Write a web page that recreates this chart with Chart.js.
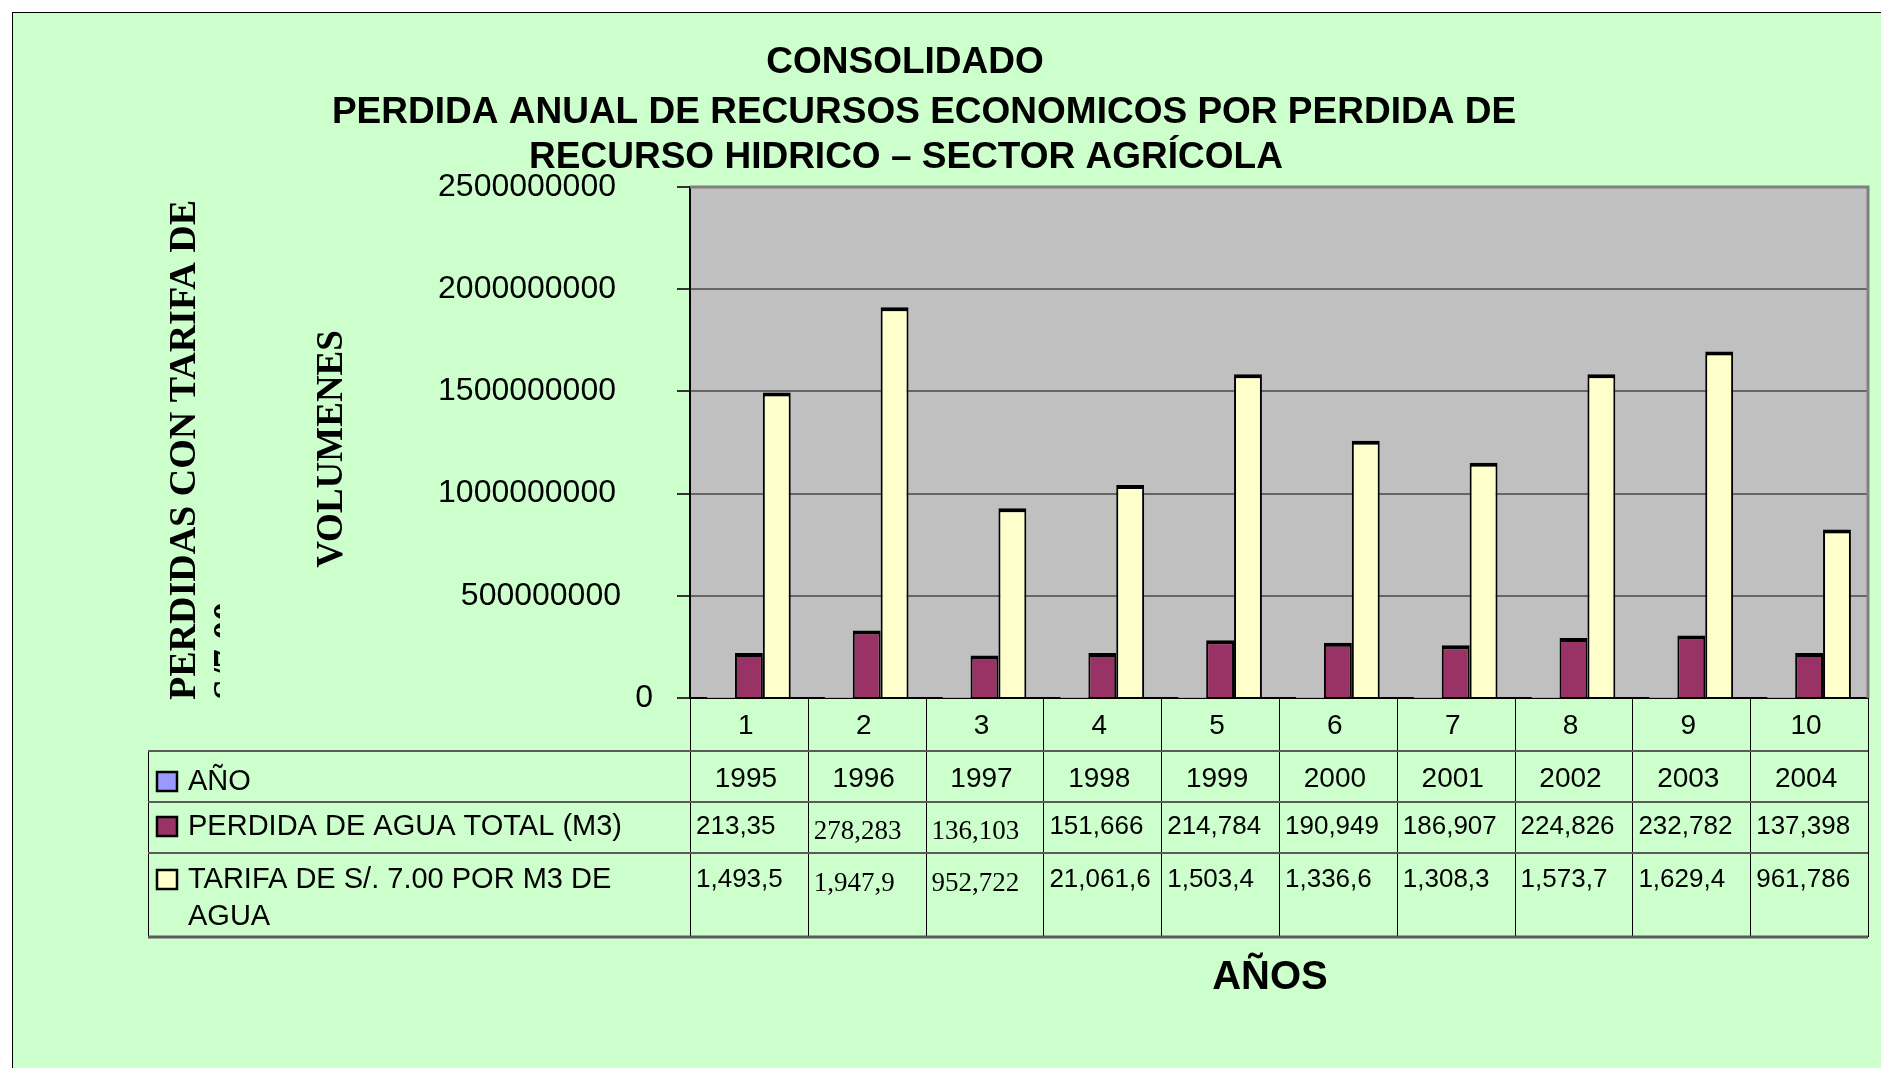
<!DOCTYPE html>
<html>
<head>
<meta charset="utf-8">
<script src="https://cdn.jsdelivr.net/npm/chart.js@4.4.1/dist/chart.umd.min.js"></script>
<style>
    html, body { margin: 0; padding: 0; background: #fff; }
    #frame {
        position: absolute; left: 12px; top: 12px; width: 1869px; height: 1056px;
        background: #CCFFCC; border-left: 1px solid #000; border-top: 1px solid #000;
        box-sizing: border-box;
    }
    #chart { position: absolute; left: 0; top: 0; }
</style>
</head>
<body>
<div id="frame"></div>
<canvas id="chart" width="1881" height="1068"></canvas>
<script>
// categories (x axis) and years row
const categories = ['1', '2', '3', '4', '5', '6', '7', '8', '9', '10'];
const years = [1995, 1996, 1997, 1998, 1999, 2000, 2001, 2002, 2003, 2004];

// bar heights
const perdidaValues = [220000000, 330000000, 208000000, 220000000, 282000000, 270000000, 258000000, 294000000, 306000000, 220000000];
const tarifaValues = [1495000000, 1912000000, 928000000, 1042000000, 1584000000, 1258000000, 1151000000, 1584000000, 1695000000, 824000000];

// text shown in the data table (as printed, truncated)
const perdidaText = ['213,35', '278,283', '136,103', '151,666', '214,784', '190,949', '186,907', '224,826', '232,782', '137,398'];
const tarifaText = ['1,493,5', '1,947,9', '952,722', '21,061,6', '1,503,4', '1,336,6', '1,308,3', '1,573,7', '1,629,4', '961,786'];
const serifCols = [1, 2]; // these cells are set in a serif face in the source

const titleLines = ['CONSOLIDADO', 'PERDIDA ANUAL DE RECURSOS ECONOMICOS POR PERDIDA DE', 'RECURSO HIDRICO \u2013 SECTOR AGR\u00CDCOLA'];
const seriesNames = ['A\u00D1O', 'PERDIDA DE AGUA TOTAL (M3)', 'TARIFA DE S/. 7.00 POR M3 DE'];

const SANS = '"Liberation Sans", Arial, sans-serif';
const SERIF = '"Liberation Serif", "Times New Roman", serif';

const sheetPlugin = {
    id: 'sheet',
    beforeDraw(chart) {
        const { ctx, chartArea: a } = chart;
        ctx.save();
        ctx.fillStyle = '#C0C0C0';
        ctx.fillRect(a.left, a.top, a.right - a.left, a.bottom - a.top);
        ctx.restore();
    },
    afterDraw(chart) {
        const { ctx, chartArea: a } = chart;
        const xs = chart.scales.x;
        const ys = chart.scales.y;
        ctx.save();

        // plot frame (top / right)
        ctx.strokeStyle = '#808080';
        ctx.lineWidth = 3;
        ctx.beginPath();
        ctx.moveTo(a.left, a.top);
        ctx.lineTo(a.right, a.top);
        ctx.lineTo(a.right, a.bottom);
        ctx.stroke();

        // y tick labels (excel pushes the short ones a bit right)
        ctx.fillStyle = '#000';
        ctx.font = '32px ' + SANS;
        ctx.textAlign = 'right';
        ctx.textBaseline = 'middle';
        ys.ticks.forEach(t => {
            const s = String(t.value);
            const shift = s.length === 1 ? 37 : (s.length === 9 ? 5 : 0);
            ctx.fillText(s, 616 + shift, ys.getPixelForValue(t.value));
        });

        // titles
        ctx.textAlign = 'center';
        ctx.font = 'bold 37px ' + SANS;
        ctx.fillText(titleLines[0], 905, 63);
        ctx.fillText(titleLines[1], 924, 113);
        ctx.fillText(titleLines[2], 906, 158);

        // x axis title
        ctx.font = 'bold 40px ' + SANS;
        ctx.fillText('A\u00D1OS', 1270, 978);

        // rotated axis titles
        ctx.save();
        ctx.font = 'bold 38px ' + SERIF;
        ctx.translate(195, 700);
        ctx.rotate(-Math.PI / 2);
        ctx.textAlign = 'left';
        ctx.textBaseline = 'alphabetic';
        ctx.fillText('PERDIDAS CON TARIFA DE', 0, 0);
        ctx.restore();

        ctx.save();
        ctx.beginPath();
        ctx.rect(0, 0, 220, 1068);
        ctx.clip();
        ctx.font = 'bold 38px ' + SERIF;
        ctx.translate(239, 700);
        ctx.rotate(-Math.PI / 2);
        ctx.textAlign = 'left';
        ctx.textBaseline = 'alphabetic';
        ctx.fillText('S/7.00', 0, 0);
        ctx.restore();

        ctx.save();
        ctx.font = 'bold 37px ' + SERIF;
        ctx.translate(342, 449);
        ctx.rotate(-Math.PI / 2);
        ctx.textAlign = 'center';
        ctx.textBaseline = 'alphabetic';
        ctx.fillText('VOLUMENES', 0, 0);
        ctx.restore();

        // data table
        const n = categories.length;
        const cw = (a.right - a.left) / n;
        const tLeft = 148;
        const r0 = a.bottom;        // category row top
        const r1 = r0 + 53;         // years row top
        const r2 = r1 + 51;         // perdida row top
        const r3 = r2 + 51;         // tarifa row top
        const r4 = r3 + 84;         // table bottom

        ctx.strokeStyle = '#000';
        ctx.lineWidth = 1;
        for (let i = 0; i <= n; i++) {
            const x = Math.round(xs.getPixelForValue(i) - cw / 2) + 0.5;
            ctx.beginPath();
            ctx.moveTo(x, r0);
            ctx.lineTo(x, r4);
            ctx.stroke();
        }
        ctx.beginPath();
        ctx.moveTo(tLeft + 0.5, r1);
        ctx.lineTo(tLeft + 0.5, r4);
        ctx.stroke();

        ctx.strokeStyle = '#5a5a5a';
        ctx.lineWidth = 2;
        [r1, r2, r3].forEach(y => {
            ctx.beginPath();
            ctx.moveTo(tLeft, y);
            ctx.lineTo(a.right, y);
            ctx.stroke();
        });
        ctx.lineWidth = 3;
        ctx.beginPath();
        ctx.moveTo(tLeft, r4);
        ctx.lineTo(a.right, r4);
        ctx.stroke();

        // legend keys + row headers
        const keyColors = chart.data.datasets.map(d => d.backgroundColor);
        const rowMid = [r1 + 31, r2 + 25, r3 + 27];
        ctx.textAlign = 'left';
        ctx.textBaseline = 'middle';
        ctx.font = '29px ' + SANS;
        rowMid.forEach((y, k) => {
            ctx.fillStyle = keyColors[k];
            ctx.fillRect(157, y - 10, 20, 19);
            ctx.strokeStyle = '#000';
            ctx.lineWidth = 2.5;
            ctx.strokeRect(157, y - 10, 20, 19);
            ctx.fillStyle = '#000';
            ctx.fillText(seriesNames[k], 188, y);
        });
        ctx.fillText('AGUA', 188, r3 + 64);

        // values
        for (let i = 0; i < n; i++) {
            const cx = xs.getPixelForValue(i) - 3;
            const left = xs.getPixelForValue(i) - cw / 2 + 6;
            ctx.fillStyle = '#000';
            ctx.textAlign = 'center';
            ctx.font = '28px ' + SANS;
            ctx.fillText(String(years[i]), cx, r1 + 28);

            ctx.textAlign = 'left';
            const serif = serifCols.includes(i);
            ctx.font = serif ? '27px ' + SERIF : '26px ' + SANS;
            ctx.fillText(perdidaText[i], left, serif ? r2 + 30 : r2 + 25);
            ctx.fillText(tarifaText[i], left, serif ? r3 + 31 : r3 + 27);
        }
        ctx.restore();
    }
};

new Chart(document.getElementById('chart'), {
    type: 'bar',
    data: {
        labels: categories,
        datasets: [
            {
                label: seriesNames[0],
                data: years,
                backgroundColor: '#9999FF',
                borderColor: '#000',
                borderWidth: 0
            },
            {
                label: seriesNames[1],
                data: perdidaValues,
                backgroundColor: '#993366',
                borderColor: '#000',
                borderWidth: { top: 4, left: 2, right: 2, bottom: 0 }
            },
            {
                label: seriesNames[2],
                data: tarifaValues,
                backgroundColor: '#FFFFCC',
                borderColor: '#000',
                borderWidth: { top: 4, left: 2, right: 2, bottom: 0 }
            }
        ]
    },
    options: {
        responsive: false,
        animation: false,
        layout: { padding: { top: 187, right: 13, left: 0, bottom: 0 } },
        datasets: {
            bar: { categoryPercentage: 0.71, barPercentage: 1 }
        },
        plugins: {
            legend: { display: false },
            title: { display: false },
            tooltip: { enabled: false }
        },
        scales: {
            x: {
                afterFit(scale) { scale.height = 370; },
                grid: { display: false, drawTicks: false },
                border: { display: true, color: '#000', width: 2 },
                ticks: {
                    color: '#000',
                    padding: 11,
                    labelOffset: -3,
                    font: { family: SANS, size: 28 }
                }
            },
            y: {
                min: 0,
                max: 2500000000,
                afterFit(scale) { scale.width = 690; },
                grid: {
                    color: '#666',
                    lineWidth: 2,
                    tickLength: 13,
                    tickColor: '#333'
                },
                border: { display: true, color: '#000', width: 2 },
                ticks: {
                    stepSize: 500000000,
                    display: false
                }
            }
        }
    },
    plugins: [sheetPlugin]
});
</script>
</body>
</html>
